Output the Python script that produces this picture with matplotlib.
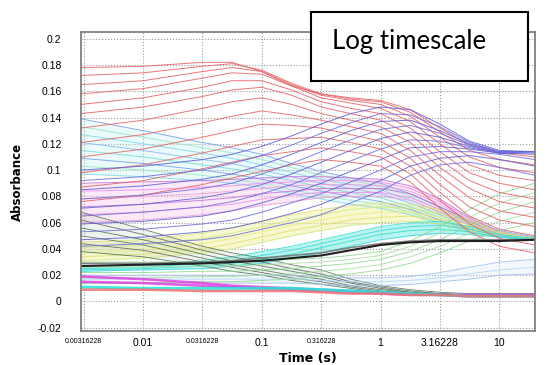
import numpy as np
import matplotlib.pyplot as plt
from matplotlib.patches import Rectangle

plt.rcParams['font.family'] = ['Liberation Sans', 'DejaVu Sans']

# sample times (s) of the kinetic traces
times = [0.003, 0.01, 0.0316, 0.056, 0.1, 0.178, 0.316, 0.56, 1, 1.78, 3.16, 5.6, 10, 20]

# absorbance traces in mOD, one row per wavelength
red_traces = [
    [178, 179, 182, 182, 175, 164, 158, 155, 153, 146, 132, 119, 113, 110],
    [172, 174, 179, 181, 176, 166, 158, 154, 152, 144, 129, 115, 108, 104],
    [165, 168, 175, 178, 175, 165, 157, 153, 150, 141, 125, 110, 102, 98],
    [158, 162, 170, 174, 173, 164, 155, 151, 147, 137, 120, 104, 96, 92],
    [150, 155, 163, 168, 168, 161, 152, 147, 143, 132, 114, 98, 90, 85],
    [143, 148, 156, 161, 163, 157, 148, 143, 138, 127, 108, 92, 83, 78],
    [132, 138, 147, 152, 155, 150, 143, 138, 133, 121, 102, 86, 76, 71],
    [121, 127, 136, 141, 145, 142, 138, 133, 128, 115, 96, 79, 69, 64],
    [110, 116, 125, 130, 135, 134, 132, 127, 122, 109, 89, 72, 62, 57],
    [98, 104, 113, 118, 123, 124, 125, 121, 116, 103, 83, 65, 55, 50],
    [87, 92, 101, 106, 111, 114, 117, 114, 110, 97, 77, 59, 48, 43],
    [76, 81, 89, 94, 99, 104, 108, 106, 103, 91, 71, 53, 42, 37],
]
blue_traces = [
    [100, 103, 108, 112, 118, 126, 135, 143, 148, 146, 135, 122, 115, 114],
    [92, 95, 100, 105, 111, 119, 128, 136, 143, 142, 133, 121, 114, 114],
    [85, 88, 93, 97, 104, 112, 121, 130, 137, 138, 130, 120, 114, 114],
    [78, 81, 86, 90, 97, 105, 114, 123, 131, 134, 128, 119, 114, 114],
    [71, 74, 79, 83, 89, 97, 106, 115, 124, 129, 125, 118, 113, 114],
    [65, 68, 72, 76, 82, 89, 98, 107, 116, 123, 122, 117, 113, 113],
    [59, 61, 65, 69, 75, 82, 90, 99, 108, 117, 118, 116, 113, 112],
    [53, 55, 59, 62, 68, 75, 82, 91, 100, 110, 114, 114, 112, 108],
    [47, 49, 53, 56, 61, 67, 74, 83, 92, 103, 109, 111, 108, 103],
    [42, 44, 47, 50, 55, 60, 66, 75, 84, 96, 104, 106, 102, 96],
]
cyan_traces = [
    [139, 130, 121, 117, 112, 105, 99, 94, 90, 82, 72, 62, 54, 49],
    [133, 125, 117, 113, 108, 102, 96, 92, 88, 80, 70, 61, 53, 48],
    [127, 120, 113, 109, 104, 98, 93, 89, 85, 77, 68, 59, 52, 48],
    [121, 115, 108, 105, 100, 95, 90, 86, 82, 75, 66, 58, 51, 47],
    [115, 110, 104, 101, 97, 92, 87, 83, 79, 72, 64, 56, 50, 47],
    [109, 105, 100, 97, 93, 88, 84, 80, 76, 70, 62, 55, 50, 47],
    [103, 100, 96, 93, 90, 85, 81, 77, 74, 68, 60, 54, 49, 47],
    [97, 95, 92, 90, 87, 82, 78, 74, 71, 66, 59, 53, 49, 47],
]
pink_traces = [
    [90, 91, 92, 93, 94, 95, 95, 94, 93, 88, 78, 64, 53, 48],
    [84, 85, 87, 88, 90, 91, 92, 92, 91, 86, 76, 63, 52, 48],
    [78, 80, 82, 84, 86, 88, 89, 89, 88, 84, 74, 62, 52, 48],
    [72, 74, 77, 79, 82, 84, 86, 86, 86, 82, 72, 61, 51, 47],
    [66, 68, 72, 74, 78, 81, 83, 83, 83, 79, 70, 60, 51, 47],
    [60, 62, 66, 69, 73, 76, 79, 80, 80, 77, 68, 58, 50, 47],
]
yellow_traces = [
    [45, 47, 52, 56, 61, 66, 70, 73, 75, 74, 70, 62, 53, 48],
    [41, 43, 48, 52, 57, 62, 66, 70, 72, 71, 67, 60, 52, 48],
    [37, 39, 44, 48, 53, 58, 62, 66, 68, 68, 64, 58, 51, 47],
    [34, 36, 40, 44, 49, 54, 58, 62, 64, 65, 62, 56, 50, 47],
    [31, 33, 37, 40, 45, 50, 54, 58, 60, 61, 59, 54, 49, 47],
]
teal_traces = [
    [27, 28, 31, 34, 38, 42, 47, 52, 57, 60, 61, 57, 51, 48],
    [25, 26, 29, 31, 35, 39, 44, 49, 54, 57, 58, 55, 50, 47],
    [24, 25, 27, 29, 32, 36, 41, 46, 51, 54, 55, 53, 49, 47],
    [23, 24, 25, 27, 29, 33, 37, 42, 47, 50, 52, 51, 49, 47],
]
black_trace = [27, 28, 29, 30, 31, 33, 35, 39, 43, 45, 46, 46, 46, 47]
gray_trace = [29, 29, 30, 31, 33, 35, 37, 41, 44, 46, 47, 47, 47, 47]
dark_traces = [
    [68, 55, 42, 37, 33, 28, 24, 17, 12, 9, 7, 6, 6, 6],
    [62, 51, 39, 34, 30, 25, 21, 15, 11, 8, 6, 5, 5, 5],
    [56, 47, 36, 31, 27, 23, 19, 14, 10, 7, 6, 5, 5, 5],
    [50, 43, 33, 28, 24, 20, 17, 12, 9, 7, 5, 5, 5, 5],
    [44, 39, 30, 26, 22, 18, 15, 11, 8, 6, 5, 5, 4, 4],
    [38, 34, 27, 23, 20, 16, 13, 10, 7, 6, 5, 4, 4, 4],
]
green_traces = [
    [30, 30, 30, 31, 31, 32, 33, 35, 38, 46, 57, 70, 82, 90],
    [26, 26, 27, 27, 28, 29, 30, 32, 35, 42, 52, 64, 75, 83],
    [22, 22, 23, 23, 24, 25, 27, 29, 32, 38, 47, 58, 68, 76],
    [18, 18, 19, 19, 20, 21, 23, 25, 28, 34, 42, 52, 61, 68],
    [14, 14, 15, 15, 16, 17, 19, 21, 24, 29, 37, 46, 54, 60],
]
lightblue_traces = [
    [20, 20, 20, 20, 20, 20, 19, 18, 18, 19, 22, 26, 30, 32],
    [17, 17, 17, 17, 17, 17, 16, 15, 15, 16, 18, 21, 24, 26],
    [14, 14, 14, 14, 14, 14, 13, 12, 12, 13, 15, 17, 20, 21],
]
magenta_traces = [
    [19, 17, 14, 12, 11, 10, 9, 8, 7, 6, 5, 5, 5, 5],
    [15, 14, 12, 11, 10, 9, 8, 7, 6, 5, 5, 4, 4, 4],
]
cyan_bottom = [11, 10, 10, 10, 10, 10, 9, 8, 7, 6, 5, 4, 4, 4]
salmon_bottom = [9, 9, 8, 8, 8, 8, 7, 6, 6, 5, 5, 4, 4, 4]

xticks = [0.00316228, 0.01, 0.0316228, 0.1, 0.316228, 1, 3.16228, 10]
xtick_labels = ['0.00316228', '0.01', '0.0316228', '0.1', '0.316228', '1', '3.16228', '10']
yticks = [-0.02, 0, 0.02, 0.04, 0.06, 0.08, 0.1, 0.12, 0.14, 0.16, 0.18, 0.2]
ytick_labels = ['-0.02', '0', '0.02', '0.04', '0.06', '0.08', '0.1', '0.12', '0.14', '0.16', '0.18', '0.2']


def draw_family(ax, traces, colors, lw=0.7, alpha=0.85, band=None, band_alpha=0.3):
    arr = np.array(traces, dtype=float) / 1000.0
    if arr.ndim == 1:
        arr = arr[None, :]
    if band is not None:
        ax.fill_between(times, arr.min(axis=0), arr.max(axis=0), color=band,
                        alpha=band_alpha, lw=0, zorder=1)
    for i, row in enumerate(arr):
        ax.plot(times, row, color=colors[i % len(colors)], lw=lw, alpha=alpha, zorder=2)


fig = plt.figure(figsize=(5.55, 3.65), dpi=100)
ax = fig.add_axes([0.146, 0.093, 0.818, 0.819])

draw_family(ax, cyan_traces, ['#7a9cec', '#9ce6c6', '#7fd8e8', '#8fb8f0', '#6fe0d8'], band='#bfeff0')
draw_family(ax, pink_traces, ['#c070d8', '#f08ce8', '#e7a0d8'], band='#f6c8ee', band_alpha=0.4)
draw_family(ax, yellow_traces, ['#e0e070', '#d0e888', '#ecec80'], band='#eef090', band_alpha=0.45)
draw_family(ax, teal_traces, ['#30e0d0', '#40d8e8'], band='#70eadc', band_alpha=0.5)
draw_family(ax, dark_traces, ['#556b55', '#5a5a5a', '#3d6b4a'], lw=0.6, band='#c8d8c8')
draw_family(ax, lightblue_traces, ['#a0c0f0', '#b0d8f8'], band='#d8e8fa')
draw_family(ax, green_traces, ['#8fd88f', '#a8e0a0'])
draw_family(ax, red_traces, ['#e65e62'])
draw_family(ax, blue_traces, ['#5b5bd6', '#6a6ae0'])
draw_family(ax, gray_trace, ['#707070'], lw=1.2)
draw_family(ax, black_trace, ['#202020'], lw=1.5, alpha=1)
draw_family(ax, magenta_traces, ['#e040e0'], lw=1.8)
draw_family(ax, cyan_bottom, ['#20e8d8'], lw=2.2)
draw_family(ax, salmon_bottom, ['#f07070'], lw=1.8)

ax.set_xscale('log')
ax.set_xlim(0.003, 20)
ax.set_ylim(-0.0225, 0.205)
ax.minorticks_off()
ax.set_xticks(xticks)
ax.set_xticklabels(xtick_labels)
ax.set_yticks(yticks)
ax.set_yticklabels(ytick_labels)
for lab in ax.get_xticklabels():
    lab.set_fontsize(5 if len(lab.get_text()) > 7 else 7.5)
ax.tick_params(axis='y', labelsize=7.5, length=0, pad=14)
ax.tick_params(axis='x', length=0, pad=5)
ax.grid(True, ls=':', color='#9a9a9a', lw=0.8)
ax.set_axisbelow(True)
for sp in ax.spines.values():
    sp.set_color('#808080')
    sp.set_linewidth(1.3)

ax.set_xlabel('Time (s)', fontsize=9, fontweight='bold', family='DejaVu Sans', labelpad=3)
ax.set_ylabel('Absorbance', fontsize=8.5, fontweight='bold', family='DejaVu Sans', labelpad=10)

# label box in the top right corner
fig.patches.append(Rectangle((311 / 555, 1 - 81 / 365), 217 / 555, 69 / 365,
                             transform=fig.transFigure, facecolor='white',
                             edgecolor='black', lw=1.5, zorder=5))
fig.text(332 / 555, 1 - 42 / 365, 'Log timescale', fontsize=18.5,
         family=['Lato', 'DejaVu Sans'], va='center', ha='left', zorder=6)

fig.savefig('out.png', dpi=100)
